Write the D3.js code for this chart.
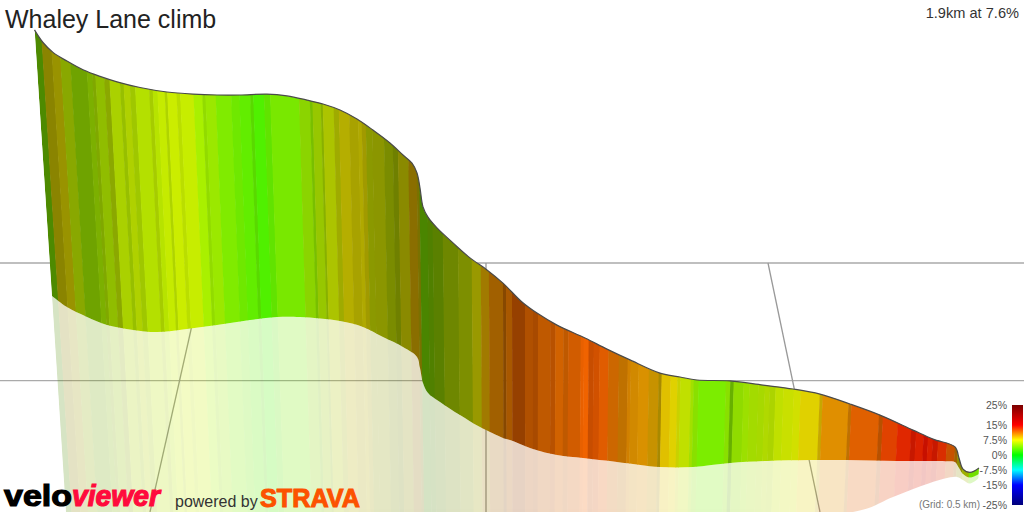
<!DOCTYPE html>
<html>
<head>
<meta charset="utf-8">
<script src="https://cdn.jsdelivr.net/npm/d3@7.9.0/dist/d3.min.js"></script>
<style>
  html, body { margin: 0; background: #fff; }
  svg { display: block; font-family: "Liberation Sans", Arial, sans-serif; }
</style>
</head>
<body>
<svg id="chart" width="1024" height="512"></svg>
<script>
// upper edge of the ribbon: metres along the climb, height in picture units
const topDist = [1,18,38,66,98,132,166,212,266,318,366,412,466,506,546,578,612,646,678,712,738,756,766,772,778,788,806,838,872,906,938,976,1006,1046,1102,1146,1192,1252,1292,1326,1392,1458,1518,1572,1632,1692,1758,1798,1842,1850,1858,1872,1890];
const topElev = [160.7,156.5,153.2,150.3,147.4,145.2,143.4,141.5,140,139.3,139,139,139.3,138.7,137.3,136,134,131,127.3,123,119,116.3,113,108,101.7,98.3,94.7,89.7,84.7,80.7,76.3,70,66.3,62.3,58,54.3,50.7,46.3,45,44,43.7,42.3,41,39.3,36,32.3,27.3,24.3,21.7,18,14.3,13.2,14.7];

// lower edge of the ribbon
const baseDist = [36,66,106,146,198,246,306,366,432,486,532,612,658,698,738,766,772,778,788,812,852,892,938,952,998,1046,1098,1166,1252,1318,1392,1466,1552,1626,1726,1826,1842,1850,1858,1872,1890];
const baseElev = [72,68.3,65,62.3,60.7,60,61,62.3,64,65,65,63.7,61.7,58.3,55,51.7,48,43,39.7,36.7,32.3,28.3,24.7,24,21,19,18,16.7,15,15,16.3,17,17.3,17.3,17,16.9,16.7,14.7,12.7,11.5,12.7];

// where the pale reflection runs out on the ground
const floorDist = [64,1638,1718,1792,1846,1858,1872,1890];
const floorElev = [0,0,5,9.7,11.7,10.7,9.5,11.3];

// strips along the climb: end distance, gradient %, lighting
const stripStart = 36;
const stripEnd = [
  48,66,82,101,132,142,148,165,175,195,
  202,214,224,251,258,267,281,286,304,311,
  337,354,360,380,410,426,447,453,474,486,
  542,563,568,584,588,609,619,639,656,663,
  671,683,706,723,733,753,769,774,789,799,
  819,849,876,894,910,938,944,956,982,998,
  1008,1033,1043,1059,1069,1094,1100,1110,1120,1132,
  1150,1171,1189,1195,1211,1232,1252,1258,1276,1290,
  1296,1317,1323,1333,1388,1397,1404,1424,1436,1454,
  1467,1477,1489,1505,1526,1540,1579,1585,1638,1644,
  1701,1709,1740,1768,1778,1794,1803,1813,1824,1842,
  1859,1865,1877,1891,1910
];
const stripGrade = [
  4.2,7.8,7.8,6.1,5.1,5.3,5.7,5.7,6.2,6.1,
  5.9,6.3,6,6,6.1,6.05,6.3,6.2,6.4,6.3,
  6.3,5.3,5,5,4.1,3.6,3.1,3.1,2.5,3.2,
  3.9,4.9,4.7,5.7,5.8,6.6,7,7.8,7.8,7.8,
  7.8,6.8,6.9,6.5,6.5,7.5,9,8.1,4.2,4.7,
  5.3,6.1,6.6,7.5,9.3,10.5,11,11.1,11.8,11.6,
  11.7,11.5,11.7,11.5,11.5,11.7,11.9,11.9,12.1,12.1,
  11.9,11.2,10.6,10.4,10.1,10,9.5,8.9,8.6,8,
  7.2,6.4,5.4,4.6,3.9,4.6,4.4,4.9,5.2,5.6,
  5.8,6.1,6.1,6.4,6.7,7,8,8.7,10.2,10.6,
  11.8,11.7,12.8,13.7,14.1,13.9,14.4,13.9,14.1,13.4,
  11.9,10.5,7.6,6.8,3.8
];
const stripLight = [
  .54,.54,.60,.66,.64,.69,.66,.74,.66,.82,
  .75,.82,.78,.88,.80,.89,.92,.83,.93,.87,
  .93,.94,.86,.91,.92,.91,.93,.85,.94,.89,
  .91,.83,.75,.78,.69,.77,.67,.71,.66,.69,
  .63,.60,.59,.55,.50,.54,.54,.48,.52,.50,
  .50,.53,.56,.60,.63,.63,.53,.66,.59,.69,
  .66,.75,.72,.82,.75,.82,.91,.94,.78,.82,
  .88,.80,.75,.82,.82,.85,.78,.66,.88,.88,
  .82,.88,.88,.88,.93,.88,.69,.86,.88,.86,
  .85,.85,.83,.88,.88,.88,.88,.78,.88,.75,
  .88,.72,.88,.88,.78,.86,.78,.85,.78,.85,
  .78,.63,.56,.69,.88
];

// ground grid: two height levels, three lines running towards the viewer
const gridLevels = [83, 43.8];
const gridFar = [344, 904, 1468];
const gridNear = [232, 904, 1572];

const gradeStops = [25, 15, 7.5, 0, -7.5, -15, -25];
const gradeColors = ['#7a0000', '#ff0000', '#ffff00', '#00ff00', '#00ffff', '#0000ff', '#00007a'];

const width = 1024;
const height = 512;

const xScale = d3.scaleLinear().domain([0, 1980]).range([34, 1024]);
const yScale = d3.scaleLinear().domain([0, 170]).range([512, 2]);
const colorScale = d3.scaleLinear().domain(gradeStops).range(gradeColors);
const legendScale = d3.scaleLinear().domain([25, -25]).range([405, 505]);

// strips lean towards a far vanishing point
const vanishX = 527;
const vanishY = 7700;
const refY = 300;
function lean(dist, y) {
  return vanishX + (xScale(dist) - vanishX) * (vanishY - y) / (vanishY - refY);
}

const svg = d3.select('#chart');

const line = d3.line().x(d => xScale(d[0])).y(d => yScale(d[1])).curve(d3.curveCatmullRom.alpha(0.5));
const topPts = d3.zip(topDist, topElev);
const basePts = d3.zip(baseDist, baseElev);
const floorPts = d3.zip(floorDist, floorElev);

const topPath = line(topPts);
const basePath = line(basePts);
const ribbonPath = topPath + 'L' + line(basePts.slice().reverse()).slice(1) + 'Z';
const reflectPath = basePath + 'L' + line(floorPts.slice().reverse()).slice(1) + 'Z';

const defs = svg.append('defs');
defs.append('clipPath').attr('id', 'ribbon-clip').append('path').attr('d', ribbonPath);
defs.append('clipPath').attr('id', 'reflect-clip').append('path').attr('d', reflectPath);

const legendGrad = defs.append('linearGradient').attr('id', 'legend-grad')
  .attr('x1', 0).attr('x2', 0).attr('y1', 0).attr('y2', 1);
legendGrad.selectAll('stop').data(gradeStops).join('stop')
  .attr('offset', d => (legendScale(d) - legendScale(25)) / (legendScale(-25) - legendScale(25)))
  .attr('stop-color', d => colorScale(d));

// grid sits behind everything
const grid = svg.append('g').attr('class', 'grid');
grid.selectAll('line.level').data(gridLevels).join('line').attr('class', 'level')
  .attr('x1', 0).attr('x2', width)
  .attr('y1', d => yScale(d)).attr('y2', d => yScale(d))
  .attr('stroke', '#aaa').attr('stroke-width', 1.4);
grid.selectAll('line.run').data(d3.zip(gridFar, gridNear)).join('line').attr('class', 'run')
  .attr('x1', d => xScale(d[0])).attr('y1', yScale(gridLevels[0]))
  .attr('x2', d => xScale(d[1])).attr('y2', height)
  .attr('stroke', '#999').attr('stroke-width', 1.3);

const strips = stripEnd.map((end, i) => ({
  from: i ? stripEnd[i - 1] : stripStart,
  to: end,
  grade: stripGrade[i],
  light: stripLight[i]
}));

function stripColor(d) {
  const c = d3.rgb(colorScale(d.grade));
  return d3.rgb(c.r * d.light, c.g * d.light, c.b * d.light).formatHex();
}
function stripShape(d) {
  // a touch of overlap so no seams show between neighbours
  const to = d.to + 1;
  return `M${lean(d.from, 0)},0L${lean(to, 0)},0L${lean(to, height)},${height}L${lean(d.from, height)},${height}Z`;
}

const reflect = svg.append('g').attr('clip-path', 'url(#reflect-clip)').attr('opacity', 0.23);
reflect.selectAll('path').data(strips).join('path')
  .attr('d', stripShape).attr('fill', stripColor);

const ribbon = svg.append('g').attr('clip-path', 'url(#ribbon-clip)');
ribbon.selectAll('path').data(strips).join('path')
  .attr('d', stripShape).attr('fill', stripColor);

svg.append('path').attr('d', topPath)
  .attr('fill', 'none').attr('stroke', '#4a4a4a').attr('stroke-width', 1.2);

// title and summary
svg.append('text').attr('x', 5).attr('y', 28)
  .attr('font-size', 25).attr('fill', '#222').text('Whaley Lane climb');
svg.append('text').attr('x', 1019).attr('y', 18).attr('text-anchor', 'end')
  .attr('font-size', 14.6).attr('fill', '#333').text('1.9km at 7.6%');

// gradient legend
svg.append('rect').attr('x', 1012).attr('y', legendScale(25))
  .attr('width', 11).attr('height', legendScale(-25) - legendScale(25))
  .attr('fill', 'url(#legend-grad)');
const legendAxis = svg.append('g').attr('transform', 'translate(1007,0)')
  .call(d3.axisLeft(legendScale).tickValues([25, 15, 7.5, 0, -7.5, -15, -25]).tickSize(0).tickPadding(0).tickFormat(d => `${d}%`));
legendAxis.select('.domain').remove();
legendAxis.selectAll('text').attr('font-size', 10.5).attr('font-family', '"Liberation Sans", Arial, sans-serif').attr('fill', '#555');

svg.append('text').attr('x', 980).attr('y', 508).attr('text-anchor', 'end')
  .attr('font-size', 10).attr('fill', '#777').text('(Grid: 0.5 km)');

// branding
svg.append('text').attr('x', 4).attr('y', 505.5)
  .attr('font-size', 30).attr('font-weight', 700)
  .attr('textLength', 68).attr('lengthAdjust', 'spacingAndGlyphs')
  .attr('fill', '#000').attr('stroke', '#000').attr('stroke-width', 1.2).text('velo');
svg.append('text').attr('x', 72).attr('y', 505.5)
  .attr('font-size', 30).attr('font-weight', 700).attr('font-style', 'italic')
  .attr('textLength', 88).attr('lengthAdjust', 'spacingAndGlyphs')
  .attr('fill', '#ff0a3c').attr('stroke', '#ff0a3c').attr('stroke-width', 1.2).text('viewer');

svg.append('text').attr('x', 175).attr('y', 507)
  .attr('font-size', 16).attr('fill', '#333').text('powered by');
svg.append('text').attr('x', 260).attr('y', 506.5)
  .attr('font-size', 25).attr('font-weight', 700)
  .attr('textLength', 100).attr('lengthAdjust', 'spacingAndGlyphs')
  .attr('fill', '#fc5200').attr('stroke', '#fc5200').attr('stroke-width', 1).text('STRAVA');
</script>
</body>
</html>
